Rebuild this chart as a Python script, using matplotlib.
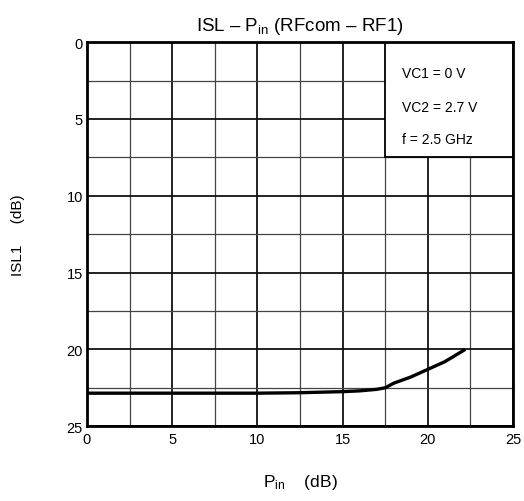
import numpy as np
import matplotlib
matplotlib.use("Agg")
from matplotlib import pyplot as plt
from matplotlib.patches import Rectangle

plt.rcParams['font.family'] = ['Liberation Sans', 'DejaVu Sans']
plt.rcParams['mathtext.fontset'] = 'custom'
plt.rcParams['mathtext.rm'] = 'Liberation Sans'
plt.rcParams['mathtext.it'] = 'Liberation Sans'

# curve
pin = [0, 2.5, 5, 7.5, 10, 12.5, 15, 16, 17, 17.5, 18, 18.5, 19, 20, 21, 22.2]
isl = [22.85, 22.85, 22.85, 22.85, 22.85, 22.82, 22.75, 22.7, 22.6, 22.5, 22.2, 22.0, 21.8, 21.3, 20.8, 20.0]

notes = ["VC1 = 0 V", "VC2 = 2.7 V", "f = 2.5 GHz"]
note_y = [2.0, 4.2, 6.3]
ticks = [0, 5, 10, 15, 20, 25]

fig = plt.figure(figsize=(5.24, 5.02), dpi=100)
ax = fig.add_axes([0.166, 0.149, 0.813, 0.765])

ax.plot(pin, isl, color="black", linewidth=2.4, zorder=3, solid_capstyle="butt")

ax.set_xlim(0, 25)
ax.set_ylim(25, 0)
ax.set_xticks(ticks)
ax.set_yticks(ticks)
ax.set_xticks(np.arange(2.5, 25, 5), minor=True)
ax.set_yticks(np.arange(2.5, 25, 5), minor=True)
ax.tick_params(which="both", length=0, labelsize=10.5)
ax.tick_params(axis="x", pad=4)
ax.tick_params(axis="y", pad=3)
ax.set_axisbelow(True)
ax.grid(which="major", color="#111111", linewidth=1.3)
ax.grid(which="minor", color="#444444", linewidth=0.9)
for s in ax.spines.values():
    s.set_linewidth(2)

# box with the conditions
ax.add_patch(Rectangle((17.5, 0), 7.5, 7.5, facecolor="white", edgecolor="black",
                       linewidth=1.3, zorder=2))
for t, y in zip(notes, note_y):
    ax.text(18.5, y, t, fontsize=10, va="center", ha="left", zorder=4)

ax.set_title("ISL \u2013 P$_{\\mathrm{in}}$ (RFcom \u2013 RF1)", fontsize=13.5, pad=9)
ax.set_xlabel("P$_{\\mathrm{in}}$    (dB)", fontsize=12.5, labelpad=19)
fig.text(18 / 524, 1 - 235 / 502, "ISL1     (dB)", fontsize=11, rotation=90,
         ha="center", va="center")

fig.savefig("out.png", dpi=100)
